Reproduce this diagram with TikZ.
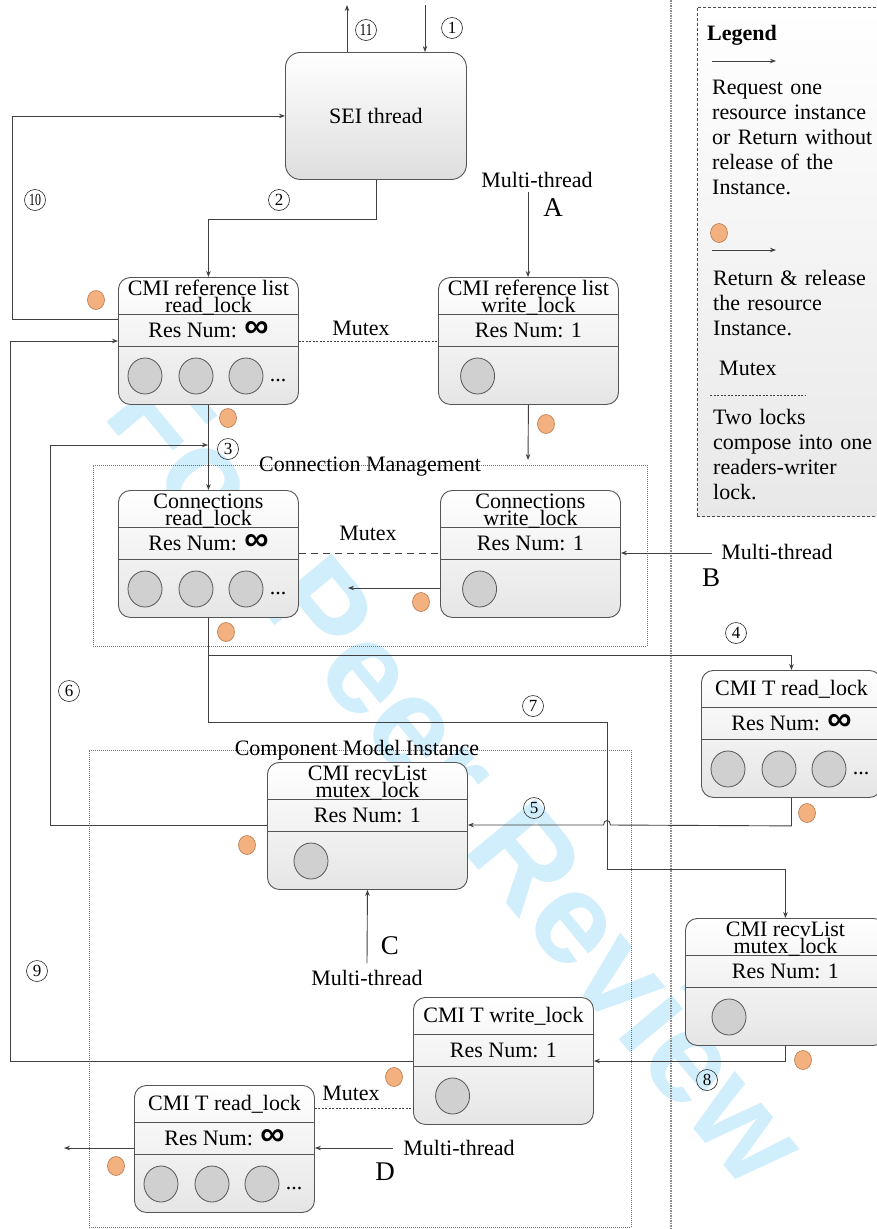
\documentclass[tikz,border=0pt]{standalone}
\usepackage{fontspec}
\setmainfont{Liberation Serif}
\newfontfamily\djv{DejaVu Sans}
\newfontfamily\wmfont{Liberation Sans}
\usetikzlibrary{arrows.meta,calc}
\definecolor{ln}{RGB}{64,64,64}
\definecolor{bx}{RGB}{85,85,85}
\definecolor{orf}{RGB}{243,177,128}
\definecolor{ord}{RGB}{185,120,75}
\definecolor{cgf}{RGB}{208,208,208}
\definecolor{wm}{RGB}{208,238,252}
\tikzset{
  conn/.style={draw=ln, line width=0.9pt},
  arr/.style={conn, -{Stealth[length=6pt,width=4.5pt]}},
  lockshape/.style={draw=bx, line width=0.9pt, rounded corners=12pt, top color=white, bottom color=black!10, inner sep=0pt, minimum width=#1, minimum height=127pt, anchor=north west},
  divl/.style={draw=bx, line width=0.9pt},
  txt/.style={font=\fontsize{22}{26}\selectfont, inner sep=0pt, text=black},
  big/.style={font=\fontsize{27}{30}\selectfont, inner sep=0pt, text=black},
  gcirc/.style={draw=bx, line width=0.8pt, fill=cgf},
  orstyle/.style={draw=ord, line width=0.6pt, fill=orf},
  circnum/.style={circle, draw=black!85, line width=0.6pt, minimum size=21pt, inner sep=0pt, font=\fontsize{17}{17}\selectfont},
  grpbox/.style={draw=black!55, line width=0.8pt, dash pattern=on 1pt off 1pt, inner sep=0pt, anchor=north west},
  mutexs/.style={draw=ln, line width=0.9pt, dash pattern=on 2pt off 1.5pt},
  mutexl/.style={draw=ln, line width=0.9pt, dash pattern=on 7pt off 5pt},
}
\newcommand\infy{{\wmfont\bfseries\fontsize{34}{34}\selectfont ∞}}
\newcommand\orr[1]{\path[orstyle] (#1) ellipse [x radius=8.5pt, y radius=9.5pt];}
\newcommand\cnum[3]{\node[circnum] (#1) at (#2) {#3};}
\newcommand\lockbox[8]{%
  \node[lockshape=#4pt] (#1) at (#2,#3) {};
  \draw[divl] ($(#1.north west)+(0,37)$) -- ($(#1.north east)+(0,37)$);
  \draw[divl] ($(#1.north west)+(0,69)$) -- ($(#1.north east)+(0,69)$);
  \def\lbtwo{#6}%
  \ifx\lbtwo\empty
    \node[txt, anchor=base] (#1-t) at ($(#1.north)+(0,25)$) {#5};
  \else
    \node[txt, anchor=base] (#1-t) at ($(#1.north)+(0,18)$) {#5};
    \node[txt, anchor=base] (#1-u) at ($(#1.north)+(0,35)$) {#6};
  \fi
  \node[txt, anchor=base] (#1-r) at ($(#1.north)+(0,60)$) {#7};
  \ifnum#8=3
    \foreach \o in {27,78,128} {\path[gcirc] ($(#1.north west)+(\o,99)$) ellipse [x radius=17pt, y radius=18pt];}
    \node[txt, anchor=base] (#1-d) at ($(#1.north west)+(160,104)$) {...};
  \else
    \pgfmathsetmacro\co{0.22*#4}
    \path[gcirc] ($(#1.north west)+(\co,99)$) ellipse [x radius=17pt, y radius=18pt];
  \fi
}
\begin{document}
\begin{tikzpicture}[x=1pt,y=-1pt]
\useasboundingbox (0,0) rectangle (877,1229);
\fill[white] (0,0) rectangle (877,1229);

% watermark
\node[font=\wmfont\bfseries\fontsize{130}{130}\selectfont, text=wm, rotate=-50.3, inner sep=0pt] (wmk) at (460,775) {For Peer Review};

% separator and legend
\draw[draw=black!45, line width=1.4pt, dash pattern=on 1.5pt off 1pt] (671,0) -- (671,1229);
\node[draw=black!70, line width=0.8pt, dash pattern=on 3pt off 2pt, top color=white, bottom color=black!9, minimum width=220pt, minimum height=509pt, anchor=north west, inner sep=0pt] (leg) at (697,7) {};
\node[txt, anchor=base west, font=\bfseries\fontsize{22}{26}\selectfont] (legt) at (707,40) {Legend};
\coordinate (la1) at (712,61); \coordinate (la2) at (776,61);
\draw[arr] (la1) -- (la2);
\node[txt, anchor=base west, text width=175pt, align=left, font=\fontsize{22}{25}\selectfont] (lg1) at (712,94) {Request one\\resource instance\\or Return without\\release of the\\Instance.};
\orr{719,233}
\coordinate (lb1) at (712,250); \coordinate (lb2) at (776,250);
\draw[arr] (lb1) -- (lb2);
\node[txt, anchor=base west, text width=175pt, align=left, font=\fontsize{22}{25}\selectfont] (lg2) at (713,285) {Return \& release\\the resource\\Instance.};
\node[txt, anchor=base west] (lgm) at (719,375) {Mutex};
\coordinate (lc1) at (710,395); \coordinate (lc2) at (805,395);
\draw[mutexs] (lc1) -- (lc2);
\node[txt, anchor=base west, text width=175pt, align=left, font=\fontsize{22}{25}\selectfont] (lg3) at (713,424) {Two locks\\compose into one\\readers-writer\\lock.};

% group boxes
\node[grpbox, minimum width=554pt, minimum height=181pt] (cmg) at (93,465) {};
\node[txt, anchor=base] (cmgt) at (370,471) {Connection Management};
\node[grpbox, minimum width=542pt, minimum height=477pt] (cmi) at (89,750) {};
\node[txt, anchor=base] (cmit) at (357,755) {Component Model Instance};

% SEI thread
\node[draw=bx, line width=0.9pt, rounded corners=15pt, top color=white, bottom color=black!13, minimum width=181pt, minimum height=127pt, anchor=north west, inner sep=0pt, font=\fontsize{22}{26}\selectfont] (sei) at (285,52) {SEI thread};

% lock boxes
\lockbox{refR}{118}{277}{180}{CMI reference list}{read\_lock}{Res Num: \infy}{3}
\lockbox{refW}{438}{277}{180}{CMI reference list}{write\_lock}{Res Num: 1}{1}
\lockbox{cnR}{118}{490}{180}{Connections}{read\_lock}{Res Num: \infy}{3}
\lockbox{cnW}{440}{490}{180}{Connections}{write\_lock}{Res Num: 1}{1}
\lockbox{tR}{701}{670}{180}{CMI T read\_lock}{}{Res Num: \infy}{3}
\lockbox{recM}{267}{762}{200}{CMI recvList}{mutex\_lock}{Res Num: 1}{1}
\lockbox{recR}{685}{918}{200}{CMI recvList}{mutex\_lock}{Res Num: 1}{1}
\lockbox{ctW}{413}{997}{180}{CMI T write\_lock}{}{Res Num: 1}{1}
\lockbox{btR}{134}{1085}{180}{CMI T read\_lock}{}{Res Num: \infy}{3}

% connectors
\coordinate (in1) at (425,5);
\draw[arr] (in1) -- (in1 |- sei.north);
\coordinate (out11) at (347,5);
\draw[arr] (out11 |- sei.north) -- (out11);
\draw[arr] (sei.south) |- ($(refR.north)+(0,-58)$) -- (refR.north);
\coordinate (mA) at (528,192);
\draw[arr] (mA) -- (mA |- refW.north);
\draw[arr] ($(refR.north west)+(0,42)$) -- ++(-106,0) |- (sei.west);
\draw[arr] ($(ctW.north west)+(0,64)$) -- ++(-403,0) |- ($(refR.north west)+(0,64)$);
\draw[arr] (refR.south) -- (cnR.north);
\coordinate (wD) at (528,460);
\draw[arr] (refW.south) -- (wD);
\coordinate (c6) at (208,445);
\draw[arr] ($(recM.north west)+(0,63)$) -- ++(-217,0) |- (c6);
\coordinate (c5) at (348,588);
\draw[arr] ($(cnW.north west)+(0,98)$) -- (c5);
\coordinate (mB) at (712,553);
\draw[arr] (mB) -- ($(cnW.north east)+(0,63)$);
\draw[arr] (cnR.south) |- ($(tR.north)+(0,-15)$) -- (tR.north);
\draw[arr] (cnR.south) |- (607,722) -- (607,869) -| (recR.north);
\draw[arr] (tR.south) -- ++(0,28) -- (610.5,825) .. controls (610.5,819) and (603.5,819) .. (603.5,825) -- ($(recM.north east)+(0,63)$);
\draw[arr] (recR.south) |- ($(ctW.north east)+(0,64)$);
\coordinate (mC) at (367,963);
\draw[arr] (mC) -- (recM.south);
\coordinate (mD) at (393,1148);
\draw[arr] (mD) -- ($(btR.north east)+(0,63)$);
\coordinate (oL) at (64,1148);
\draw[arr] ($(btR.north west)+(0,63)$) -- (oL);

% mutex lines
\draw[mutexs] ($(refR.north east)+(0,64)$) -- ($(refW.north west)+(0,64)$);
\draw[mutexl] ($(cnR.north east)+(0,63)$) -- ($(cnW.north west)+(0,63)$);
\draw[mutexs] ($(btR.north east)+(0,23)$) -- ($(ctW.north west)+(0,111)$);
\node[txt, anchor=base] (mx1) at (361,335) {Mutex};
\node[txt, anchor=base] (mx2) at (368,540) {Mutex};
\node[txt, anchor=base] (mx3) at (351,1100) {Mutex};

% multi-thread labels
\node[txt, anchor=base] (tA) at (537,187) {Multi-thread};
\node[big, anchor=base] (lA) at (553,216) {A};
\node[txt, anchor=base] (tB) at (777,559) {Multi-thread};
\node[big, anchor=base] (lB) at (711,586) {B};
\node[big, anchor=base] (lC) at (390,954) {C};
\node[txt, anchor=base] (tC) at (367,985) {Multi-thread};
\node[txt, anchor=base] (tD) at (459,1155) {Multi-thread};
\node[big, anchor=base] (lD) at (385,1180) {D};

% orange dots
\orr{96,300}
\orr{228,418}
\orr{546,424}
\orr{421,602}
\orr{226,632}
\orr{807,813}
\orr{247,845}
\orr{394,1077}
\orr{803,1060}
\orr{116,1166}

% circled numbers
\cnum{n1}{452,28}{1}
\cnum{n11}{366,30}{\scalebox{0.75}[1]{11}}
\cnum{n2}{279,200}{2}
\cnum{n10}{35,200}{\scalebox{0.7}[1]{10}}
\cnum{n3}{228,449}{3}
\cnum{n4}{736,633}{4}
\cnum{n5}{534,808}{5}
\cnum{n6}{69,691}{6}
\cnum{n7}{533,706}{7}
\cnum{n8}{707,1080}{8}
\cnum{n9}{37,971}{9}
\end{tikzpicture}
\end{document}
